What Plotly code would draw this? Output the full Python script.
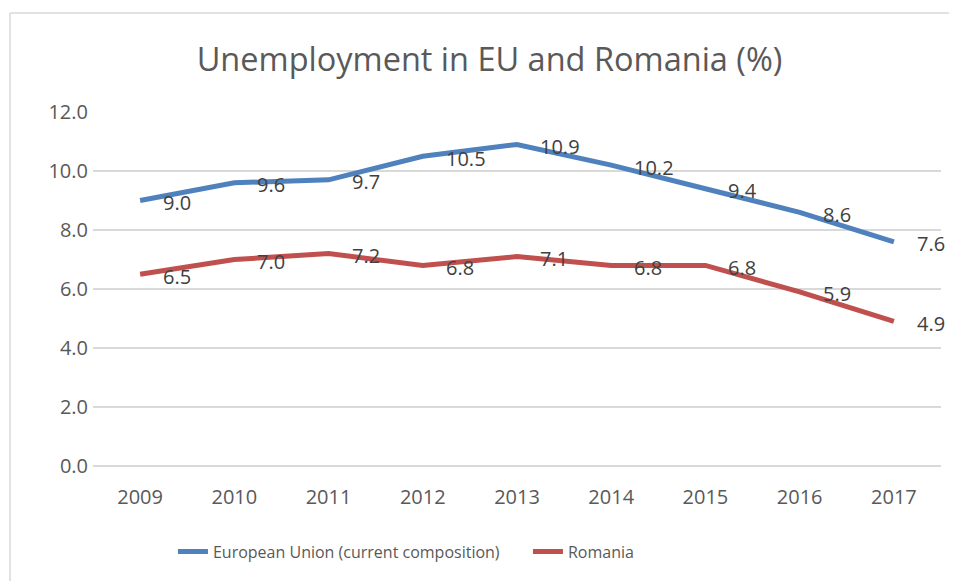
import plotly.graph_objects as go

years = ["2009", "2010", "2011", "2012", "2013", "2014", "2015", "2016", "2017"]
eu_values = [9.0, 9.6, 9.7, 10.5, 10.9, 10.2, 9.4, 8.6, 7.6]
ro_values = [6.5, 7.0, 7.2, 6.8, 7.1, 6.8, 6.8, 5.9, 4.9]
series_names = ["European Union (current composition)", "Romania"]
series_colors = ["#4F81BD", "#C0504D"]
y_ticks = [0, 2, 4, 6, 8, 10, 12]

FONT = "Open Sans"

fig = go.Figure()
for name, vals, col in zip(series_names, [eu_values, ro_values], series_colors):
    fig.add_trace(go.Scatter(
        x=years, y=vals, mode="lines", name=name,
        line=dict(color=col, width=5),
        hoverinfo="x+y",
    ))

annotations = []
for vals in [eu_values, ro_values]:
    for i, v in enumerate(vals):
        annotations.append(dict(
            x=i, y=v, xref="x", yref="y", text=f"{v:.1f}",
            showarrow=False, xanchor="left", yanchor="middle",
            xshift=21, yshift=-2,
            font=dict(family=FONT, size=20, color="#404040"),
        ))

fig.update_layout(
    width=957, height=581,
    margin=dict(l=85, r=24, t=104, b=123),
    paper_bgcolor="white", plot_bgcolor="white",
    title=dict(text="Unemployment in EU and Romania (%)",
               x=0.4676, xref="paper", xanchor="center",
               y=1 - 52 / 581, yref="container", yanchor="middle",
               font=dict(family=FONT, size=32.5, color="#595959")),
    font=dict(family=FONT, color="#595959"),
    showlegend=True,
    legend=dict(orientation="h", x=0.0943, xanchor="left", y=-0.242, yanchor="middle",
                font=dict(family=FONT, size=16, color="#595959"),
                itemwidth=30, tracegroupgap=0,
                entrywidth=310, entrywidthmode="pixels"),
    annotations=annotations,
    shapes=[
        dict(type="line", xref="paper", yref="paper", x0=-0.0979, x1=1.05, y0=1.280, y1=1.280,
             line=dict(color="#D9D9D9", width=1.5)),
        dict(type="line", xref="paper", yref="paper", x0=-0.0979, x1=-0.0979, y0=1.280, y1=-0.4,
             line=dict(color="#D9D9D9", width=1.5)),
    ],
)
fig.update_xaxes(type="category", range=[-0.5, 8.5], showgrid=False, zeroline=False,
                 showline=False, ticks="", ticklabelstandoff=17,
                 tickfont=dict(family=FONT, size=20, color="#595959"))
fig.update_yaxes(range=[0, 12], tickvals=y_ticks, tickformat=".1f",
                 showgrid=True, gridcolor="#D9D9D9", gridwidth=1.5,
                 zeroline=True, zerolinecolor="#D9D9D9", zerolinewidth=1.5,
                 showline=False, ticks="", ticklabelstandoff=4,
                 tickfont=dict(family=FONT, size=20, color="#595959"))

fig.write_html("out.html")
